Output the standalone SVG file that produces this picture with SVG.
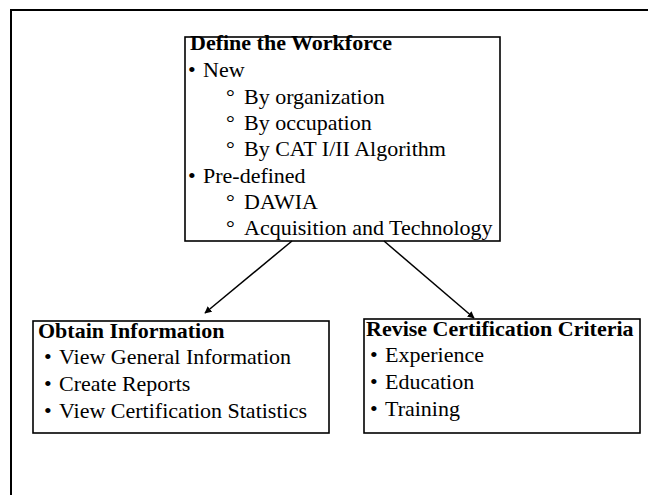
<svg xmlns="http://www.w3.org/2000/svg" width="648" height="495" viewBox="0 0 648 495">
<defs>
<style>
.box{fill:#fff;stroke:#000;stroke-width:1.6}
.t{font-family:"Liberation Serif","Times New Roman",serif;font-size:22px;fill:#000}
.b{font-weight:bold}
.c{stroke:#000;stroke-width:1.5;fill:none}
.frame{stroke:#000;stroke-width:2;fill:none}
</style>
<marker id="ah" viewBox="0 0 10 10" refX="9" refY="5" markerWidth="7" markerHeight="7" orient="auto" markerUnits="userSpaceOnUse">
<path d="M0,0 L10,5 L0,10 z" fill="#000"/>
</marker>
</defs>
<rect width="648" height="495" fill="#fff"/>
<path class="frame" d="M648,10 L11,10 L11,495"/>
<g id="define">
<rect class="box" x="185" y="37" width="315" height="204"/>
<text class="t b" x="190" y="50">Define the Workforce</text>
<text class="t" x="188" y="77">•</text><text class="t" x="203" y="77">New</text>
<text class="t" x="226" y="104">°</text><text class="t" x="244" y="104">By organization</text>
<text class="t" x="226" y="130">°</text><text class="t" x="244" y="130">By occupation</text>
<text class="t" x="226" y="156">°</text><text class="t" x="244" y="156">By CAT I/II Algorithm</text>
<text class="t" x="188" y="183">•</text><text class="t" x="203" y="183">Pre-defined</text>
<text class="t" x="226" y="209">°</text><text class="t" x="244" y="209">DAWIA</text>
<text class="t" x="226" y="235">°</text><text class="t" x="244" y="235">Acquisition and Technology</text>
</g>
<g id="obtain">
<rect class="box" x="33" y="321" width="296" height="112"/>
<text class="t b" x="38" y="338">Obtain Information</text>
<text class="t" x="44" y="364">•</text><text class="t" x="59" y="364">View General Information</text>
<text class="t" x="44" y="391">•</text><text class="t" x="59" y="391">Create Reports</text>
<text class="t" x="44" y="418">•</text><text class="t" x="59" y="418">View Certification Statistics</text>
</g>
<g id="revise">
<rect class="box" x="364" y="319" width="276" height="114"/>
<text class="t b" x="366" y="336">Revise Certification Criteria</text>
<text class="t" x="370" y="362">•</text><text class="t" x="385" y="362">Experience</text>
<text class="t" x="370" y="389">•</text><text class="t" x="385" y="389">Education</text>
<text class="t" x="370" y="416">•</text><text class="t" x="385" y="416">Training</text>
</g>
<g id="connectors">
<line class="c" x1="292" y1="241" x2="205" y2="313" marker-end="url(#ah)"/>
<line class="c" x1="384" y1="241" x2="474" y2="318" marker-end="url(#ah)"/>
</g>
</svg>
